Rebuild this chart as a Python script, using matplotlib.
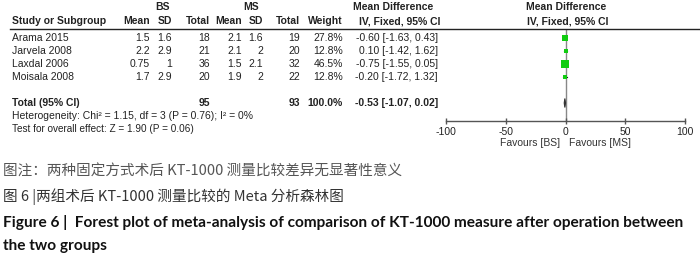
import matplotlib
matplotlib.use("Agg")
import matplotlib.pyplot as plt
from matplotlib.lines import Line2D
from matplotlib.patches import Polygon

plt.rcParams['font.family'] = ['Liberation Sans', 'DejaVu Sans']

# ---------------- data ----------------
studies = ["Arama 2015", "Jarvela 2008", "Laxdal 2006", "Moisala 2008"]
bs_mean = ["1.5", "2.2", "0.75", "1.7"]
bs_sd = ["1.6", "2.9", "1", "2.9"]
bs_total = [18, 21, 36, 20]
ms_mean = ["2.1", "2.1", "1.5", "1.9"]
ms_sd = ["1.6", "2", "2.1", "2"]
ms_total = [19, 20, 32, 22]
weights = [27.8, 12.8, 46.5, 12.8]
md = [-0.60, 0.10, -0.75, -0.20]
ci_lo = [-1.63, -1.42, -1.55, -1.72]
ci_hi = [0.43, 1.62, 0.05, 1.32]
total_bs = 95
total_ms = 93
total_weight = 100.0
total_md = -0.53
total_lo = -1.07
total_hi = 0.02
xticks = [-100, -50, 0, 50, 100]
heterogeneity = "Heterogeneity: Chi\u00b2 = 1.15, df = 3 (P = 0.76); I\u00b2 = 0%"
overall = "Test for overall effect: Z = 1.90 (P = 0.06)"
fav_left = "Favours [BS]"
fav_right = "Favours [MS]"
cap1 = "图注：两种固定方式术后 KT-1000 测量比较差异无显著性意义"
cap2 = "图 6 |两组术后 KT-1000 测量比较的 Meta 分析森林图"
cap3 = "Figure 6 |  Forest plot of meta-analysis of comparison of KT-1000 measure after operation between"
cap4 = "the two groups"

W, H = 700, 256
fig = plt.figure(figsize=(W / 100, H / 100), dpi=100)
FS = 7.5


def T(x, y, s, ha='left', fs=FS, bold=False, color='#222222', **kw):
    return fig.text(x / W, 1 - y / H, s, ha=ha, va='center', fontsize=fs,
                    fontweight='bold' if bold else 'normal', color=color, **kw)


# ---------------- headers ----------------
T(162, 7, "BS", ha='center', bold=True)
T(251, 7, "MS", ha='center', bold=True)
T(393, 7, "Mean Difference", ha='center', bold=True)
T(566, 7, "Mean Difference", ha='center', bold=True)
T(12, 21, "Study or Subgroup", bold=True)
col_x = [150, 172, 210, 242, 263, 300, 343]
col_h = ["Mean", "SD", "Total", "Mean", "SD", "Total", "Weight"]
for cx, ch in zip(col_x, col_h):
    T(cx, 21, ch, ha='right', bold=True)
T(400, 21, "IV, Fixed, 95% CI", ha='center', bold=True)
T(568, 21, "IV, Fixed, 95% CI", ha='center', bold=True)
fig.add_artist(Line2D([10 / W, 1.0], [1 - 28.5 / H, 1 - 28.5 / H],
                      color='#222222', lw=1.0))

# ---------------- rows ----------------
ci_right = 438
row_y = [38 + 13 * i for i in range(len(studies))]
for i, y in enumerate(row_y):
    T(12, y, studies[i])
    vals = [bs_mean[i], bs_sd[i], str(bs_total[i]), ms_mean[i], ms_sd[i],
            str(ms_total[i]), f"{weights[i]:.1f}%"]
    for cx, v in zip(col_x, vals):
        T(cx, y, v, ha='right')
    T(ci_right, y, f"{md[i]:.2f} [{ci_lo[i]:.2f}, {ci_hi[i]:.2f}]", ha='right')

ty = 103
T(12, ty, "Total (95% CI)", bold=True)
T(210, ty, str(total_bs), ha='right', bold=True)
T(300, ty, str(total_ms), ha='right', bold=True)
T(343, ty, f"{total_weight:.1f}%", ha='right', bold=True)
T(ci_right, ty, f"{total_md:.2f} [{total_lo:.2f}, {total_hi:.2f}]", ha='right', bold=True)
T(12, 116, heterogeneity)
T(12, 129, overall, fs=7.2)

# ---------------- forest axes ----------------
x0, x1 = 446, 685
ytop, ybot = 28.5, 120.5
ax = fig.add_axes([x0 / W, 1 - ybot / H, (x1 - x0) / W, (ybot - ytop) / H])
ax.set_xlim(-100, 100)
ax.set_ylim(ybot, ytop)
ax.patch.set_visible(False)
for s in ['left', 'top', 'right']:
    ax.spines[s].set_visible(False)
ax.spines['bottom'].set_color('#555555')
ax.spines['bottom'].set_linewidth(1.0)
ax.set_yticks([])
ax.set_xticks(xticks)
ax.set_xticklabels([str(t) for t in xticks])
ax.tick_params(axis='x', direction='inout', length=5, width=1, color='#555555',
               labelsize=7.5, pad=2, labelcolor='#222222')
ax.axvline(0, color='#888888', lw=1.0, zorder=1)

for i, y in enumerate(row_y):
    ax.plot([ci_lo[i], ci_hi[i]], [y, y], color='#222222', lw=0.8, zorder=2)
    side_px = weights[i] ** 0.5 * 1.05
    ax.plot(md[i], y, marker='s', markersize=side_px * 0.72, color='#11cc11',
            markeredgewidth=0, zorder=3)

diamond = Polygon([[total_lo, ty], [total_md, ty - 4.5], [total_hi, ty],
                   [total_md, ty + 4.5]], closed=True, facecolor='#333333',
                  edgecolor='#333333', lw=0.8, zorder=3)
ax.add_patch(diamond)

T(530, 143, fav_left, ha='center', fs=7.5, color='#333333')
T(600, 143, fav_right, ha='center', fs=7.5, color='#333333')

# ---------------- captions ----------------
cjk = ['Noto Sans CJK SC', 'DejaVu Sans']
fig.text(3 / W, 1 - 172 / H, cap1, ha='left', va='center', fontsize=10.5,
         color='#555555', family=cjk)
fig.text(3 / W, 1 - 197 / H, cap2, ha='left', va='center', fontsize=10.5,
         color='#333333', family=cjk)
lat = ['Lato', 'DejaVu Sans']
t3 = fig.text(3 / W, 1 - 222 / H, cap3, ha='left', va='center', fontsize=9,
              fontweight='bold', color='#111111', family=lat)
fig.canvas.draw()
r = fig.canvas.get_renderer()
w3 = t3.get_window_extent(r).width
fs3 = 9 * 679 / w3
t3.set_fontsize(fs3)
fig.text(3 / W, 1 - 246 / H, cap4, ha='left', va='center', fontsize=fs3,
         fontweight='bold', color='#111111', family=lat)

fig.savefig("out.png", dpi=100)
